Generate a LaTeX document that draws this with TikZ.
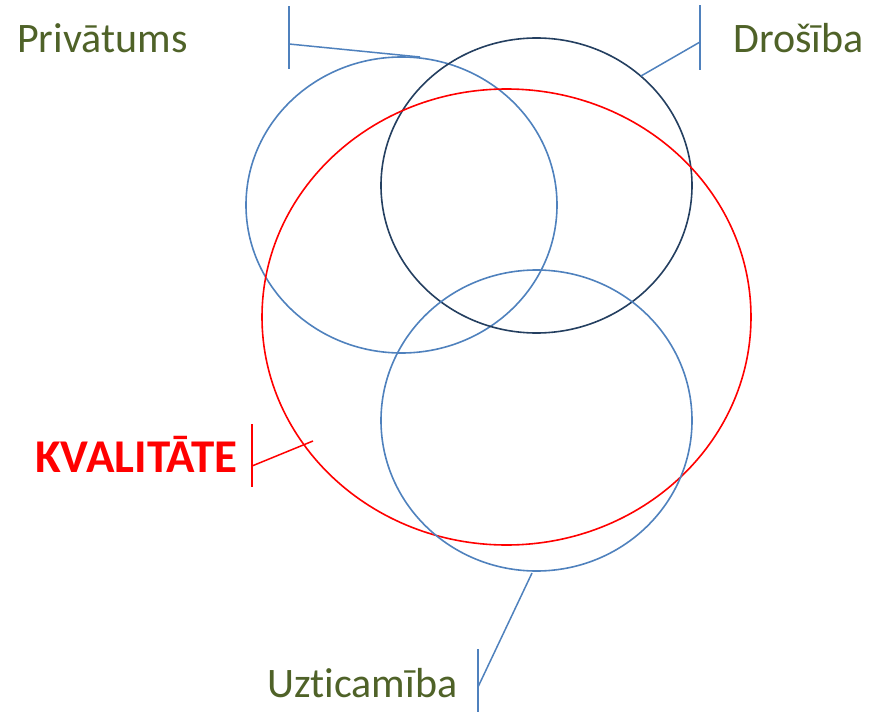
\documentclass[tikz,border=0pt]{standalone}
\usepackage{fontspec}
\setmainfont[Ligatures=CommonOff]{Carlito}
\definecolor{lblgreen}{HTML}{4F6228}
\definecolor{cblue}{HTML}{4F81BD}
\definecolor{cnavy}{HTML}{243F60}
\definecolor{cred}{HTML}{FF0000}
\tikzset{
  ring/.style={line width=1.6pt},
  callout/.style={line width=1.5pt},
  lbl/.style={inner sep=0pt, anchor=base west, text=lblgreen, font=\fontsize{42}{48}\selectfont},
  qlbl/.style={inner sep=0pt, anchor=base west, text=cred, font=\fontsize{47}{52}\selectfont\bfseries}
}
\begin{document}
\begin{tikzpicture}[x=1pt,y=-1pt]
\useasboundingbox (0,0) rectangle (879,712);
% ellipses
\draw[ring, cblue] (401.5,205) ellipse [x radius=155.5, y radius=148];
\draw[ring, cnavy] (536.5,185.5) ellipse [x radius=155.5, y radius=147.5];
\draw[ring, cred] (506.5,317) ellipse [x radius=244.5, y radius=228];
\draw[ring, cblue] (536.5,420.5) ellipse [x radius=155.5, y radius=150.5];
% labels
\node[lbl] (priv) at (17,52) {Privātums};
\node[lbl] (dros) at (733,52) {Drošība};
\node[qlbl] (kval) at (35,472) {KVALITĀTE};
\node[lbl] (uzt) at (267,697) {Uzticamība};
% callout bars
\coordinate (pT) at (289,6);   \coordinate (pB) at (289,69);  \coordinate (pM) at (289,44);  \coordinate (pE) at (420,57);
\coordinate (dT) at (700,5);   \coordinate (dB) at (700,70);  \coordinate (dM) at (700,42);  \coordinate (dE) at (641,76);
\coordinate (kT) at (252,424); \coordinate (kB) at (252,487); \coordinate (kM) at (252,466); \coordinate (kE) at (313,441);
\coordinate (uT) at (478,649); \coordinate (uB) at (478,712); \coordinate (uM) at (478,687); \coordinate (uE) at (532,573);
\draw[callout, cblue] (pT) -- (pB);
\draw[callout, cblue] (pM) -- (pE);
\draw[callout, cblue] (dT) -- (dB);
\draw[callout, cblue] (dM) -- (dE);
\draw[callout, cred] (kT) -- (kB);
\draw[callout, cred] (kM) -- (kE);
\draw[callout, cblue] (uT) -- (uB);
\draw[callout, cblue] (uM) -- (uE);
\end{tikzpicture}
\end{document}
